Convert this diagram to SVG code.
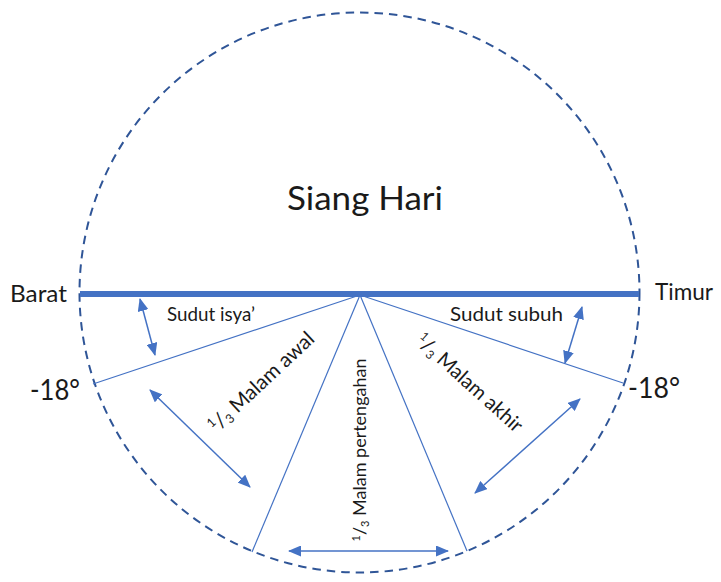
<svg xmlns="http://www.w3.org/2000/svg" width="721" height="582" viewBox="0 0 721 582">
<style>
.t{font-family:Lato,"Noto Sans","Liberation Sans",sans-serif;fill:#1a1a1a}
.thin{stroke:#4472C4;stroke-width:1.2;fill:none}
.arr{stroke:#4472C4;stroke-width:1.5;fill:none;marker-start:url(#ah);marker-end:url(#ah)}
</style>
<defs>
<marker id="ah" viewBox="0 0 13 11" refX="12" refY="5.5" markerWidth="13" markerHeight="11" markerUnits="userSpaceOnUse" orient="auto-start-reverse">
<path d="M0,0 L13,5.5 L0,11 Z" fill="#4472C4"/>
</marker>
</defs>
<rect width="721" height="582" fill="#ffffff"/>
<g id="circle">
<circle cx="359.5" cy="292.5" r="280" fill="none" stroke="#2F5597" stroke-width="2" stroke-dasharray="8.5,6"/>
</g>
<g id="connectors">
<line x1="80" y1="294" x2="639" y2="294" stroke="#4472C4" stroke-width="6"/>
<line class="thin" x1="360" y1="295" x2="93" y2="384"/>
<line class="thin" x1="360" y1="295" x2="623" y2="383"/>
<line class="thin" x1="360" y1="295" x2="252" y2="552"/>
<line class="thin" x1="360" y1="295" x2="467" y2="551"/>
<line class="arr" x1="140" y1="299" x2="155" y2="355"/>
<line class="arr" x1="582" y1="307" x2="565" y2="363"/>
<line class="arr" x1="150" y1="390" x2="250" y2="487"/>
<line class="arr" x1="289" y1="551" x2="448" y2="551"/>
<line class="arr" x1="580" y1="399" x2="475" y2="493"/>
</g>
<g id="siang"><text class="t" x="287" y="210" font-size="32" textLength="156" lengthAdjust="spacingAndGlyphs">Siang Hari</text></g>
<g id="barat"><text class="t" x="10" y="302" font-size="23.5" textLength="57" lengthAdjust="spacingAndGlyphs">Barat</text></g>
<g id="timur"><text class="t" x="655" y="300" font-size="23" textLength="58" lengthAdjust="spacingAndGlyphs">Timur</text></g>
<g id="m18l"><text class="t" x="30" y="400" font-size="28" textLength="50" lengthAdjust="spacingAndGlyphs">-18°</text></g>
<g id="m18r"><text class="t" x="628" y="398" font-size="28" textLength="52" lengthAdjust="spacingAndGlyphs">-18°</text></g>
<g id="isya"><text class="t" x="167" y="321" font-size="19" textLength="88" lengthAdjust="spacingAndGlyphs">Sudut isya’</text></g>
<g id="subuh"><text class="t" x="450" y="321" font-size="19.5" textLength="113" lengthAdjust="spacingAndGlyphs">Sudut subuh</text></g>
<g id="awal"><text class="t" font-size="20.5" text-anchor="middle" transform="translate(266,387) rotate(-43)"><tspan font-size="12.5" dy="-7">1</tspan><tspan dy="7">/</tspan><tspan font-size="12.5" dy="3">3</tspan><tspan dy="-3"> Malam awal</tspan></text></g>
<g id="tengah"><text class="t" font-size="18" text-anchor="middle" transform="translate(366,450) rotate(-90)"><tspan font-size="11" dy="-6">1</tspan><tspan dy="6">/</tspan><tspan font-size="11" dy="3">3</tspan><tspan dy="-3"> Malam pertengahan</tspan></text></g>
<g id="akhir"><text class="t" font-size="20" text-anchor="middle" transform="translate(465,388) rotate(42)"><tspan font-size="12" dy="-7">1</tspan><tspan dy="7">/</tspan><tspan font-size="12" dy="3">3</tspan><tspan dy="-3"> Malam akhir</tspan></text></g>
</svg>
